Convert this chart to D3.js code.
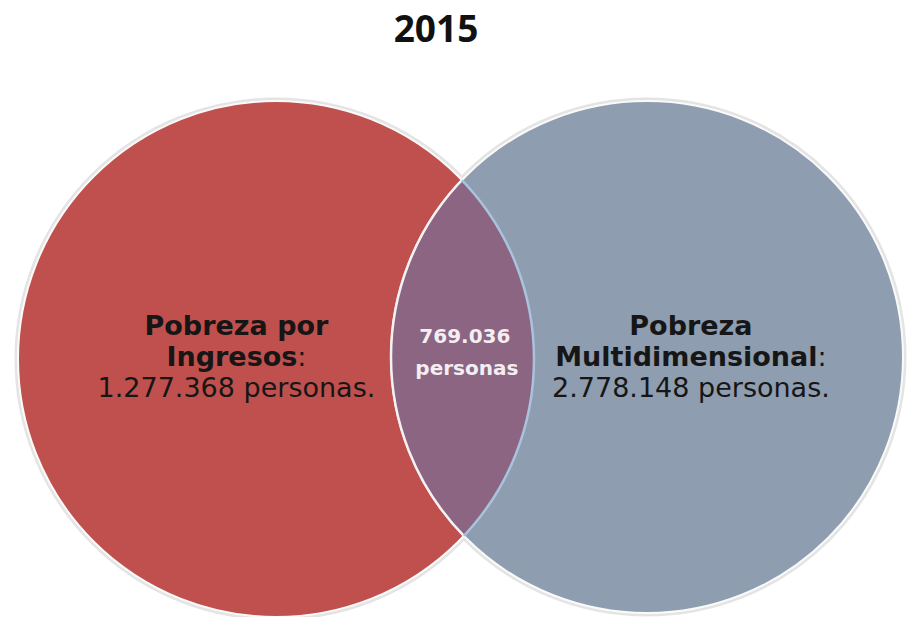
<!DOCTYPE html>
<html>
<head>
<meta charset="utf-8">
<script src="https://cdn.jsdelivr.net/npm/d3@7"></script>
<style>
  body { margin: 0; background: #fff; }
</style>
</head>
<body>
<svg width="907" height="617"></svg>
<script>
const title = '2015';
const setNames = ['Pobreza por Ingresos', 'Pobreza Multidimensional'];
const setLines = [['Pobreza por', 'Ingresos'], ['Pobreza', 'Multidimensional']];
const setTotals = [1277368, 2778148];
const overlapTotal = 769036;

const fmt = d3.formatLocale({decimal: ',', thousands: '.', grouping: [3], currency: ['$', '']}).format(',d');

const svg = d3.select('svg');
const defs = svg.append('defs');

// circle layout
const x = d3.scalePoint().domain(setNames).range([276, 647]);
const cy = d3.scaleOrdinal().domain(setNames).range([359, 357]);
const r = d3.scaleOrdinal().domain(setNames).range([258, 256]);
const fills = d3.scaleOrdinal().domain(setNames).range(['#c0504d', '#8e9daf']);

const circles = setNames.map((name, i) => ({name, total: setTotals[i], lines: setLines[i]}));

circles.forEach((d, i) => {
    defs.append('clipPath').attr('id', 'clip' + i)
        .append('circle')
        .attr('cx', x(d.name)).attr('cy', cy(d.name)).attr('r', r(d.name));
});

// soft halo around both circles
svg.selectAll('circle.halo')
    .data(circles)
    .join('circle')
    .attr('class', 'halo')
    .attr('cx', d => x(d.name))
    .attr('cy', d => cy(d.name))
    .attr('r', d => r(d.name) + 2)
    .attr('fill', 'none')
    .attr('stroke', '#e4e4e4')
    .attr('stroke-width', 3);

svg.selectAll('circle.set')
    .data(circles)
    .join('circle')
    .attr('class', 'set')
    .attr('cx', d => x(d.name))
    .attr('cy', d => cy(d.name))
    .attr('r', d => r(d.name))
    .attr('fill', d => fills(d.name))
    .attr('stroke', '#fafafa')
    .attr('stroke-width', 2);

// intersection lens
const a = circles[0], b = circles[1];
svg.append('circle')
    .attr('clip-path', 'url(#clip0)')
    .attr('cx', x(b.name)).attr('cy', cy(b.name)).attr('r', r(b.name))
    .attr('fill', '#8b6581');

// lens left edge (white), lens right edge (light blue)
svg.append('circle')
    .attr('clip-path', 'url(#clip0)')
    .attr('cx', x(b.name)).attr('cy', cy(b.name)).attr('r', r(b.name))
    .attr('fill', 'none').attr('stroke', '#f4f1f3').attr('stroke-width', 2.5);
svg.append('circle')
    .attr('clip-path', 'url(#clip1)')
    .attr('cx', x(a.name)).attr('cy', cy(a.name)).attr('r', r(a.name))
    .attr('fill', 'none').attr('stroke', '#a9c3df').attr('stroke-width', 2.5);

// x of top intersection point
const dx = x(b.name) - x(a.name);
const ix = x(a.name) + (r(a.name) ** 2 - r(b.name) ** 2 + dx * dx) / (2 * dx);

// set labels
const labelX = [(x(a.name) - r(a.name) + ix) / 2 - 4, (ix + x(b.name) + r(b.name)) / 2 + 8];
const labelY = 335;
const lh = 31;

circles.forEach((d, i) => {
    const t = svg.append('text')
        .attr('text-anchor', 'middle')
        .attr('font-family', 'DejaVu Sans, Verdana, sans-serif')
        .attr('font-size', 27)
        .attr('fill', '#161616');
    d.lines.forEach((ln, j) => {
        const ts = t.append('tspan').attr('x', labelX[i]).attr('y', labelY + j * lh);
        ts.append('tspan').attr('font-weight', 'bold').text(ln);
        if (j === d.lines.length - 1) ts.append('tspan').text(':');
    });
    t.append('tspan').attr('x', labelX[i]).attr('y', labelY + d.lines.length * lh)
        .text(fmt(d.total) + ' personas.');
});

// overlap label
const ov = svg.append('text')
    .attr('text-anchor', 'middle')
    .attr('font-family', 'DejaVu Sans, Verdana, sans-serif')
    .attr('font-weight', 'bold')
    .attr('font-size', 20)
    .attr('fill', '#f4eef3');
ov.append('tspan').attr('x', ix + 2).attr('y', 343).text(fmt(overlapTotal));
ov.append('tspan').attr('x', ix + 4).attr('y', 375).text('personas');

// title
svg.append('text')
    .attr('x', 436).attr('y', 42)
    .attr('text-anchor', 'middle')
    .attr('font-family', 'Open Sans, sans-serif')
    .attr('font-weight', 'bold')
    .attr('font-size', 37)
    .attr('fill', '#111')
    .text(title);
</script>
</body>
</html>
